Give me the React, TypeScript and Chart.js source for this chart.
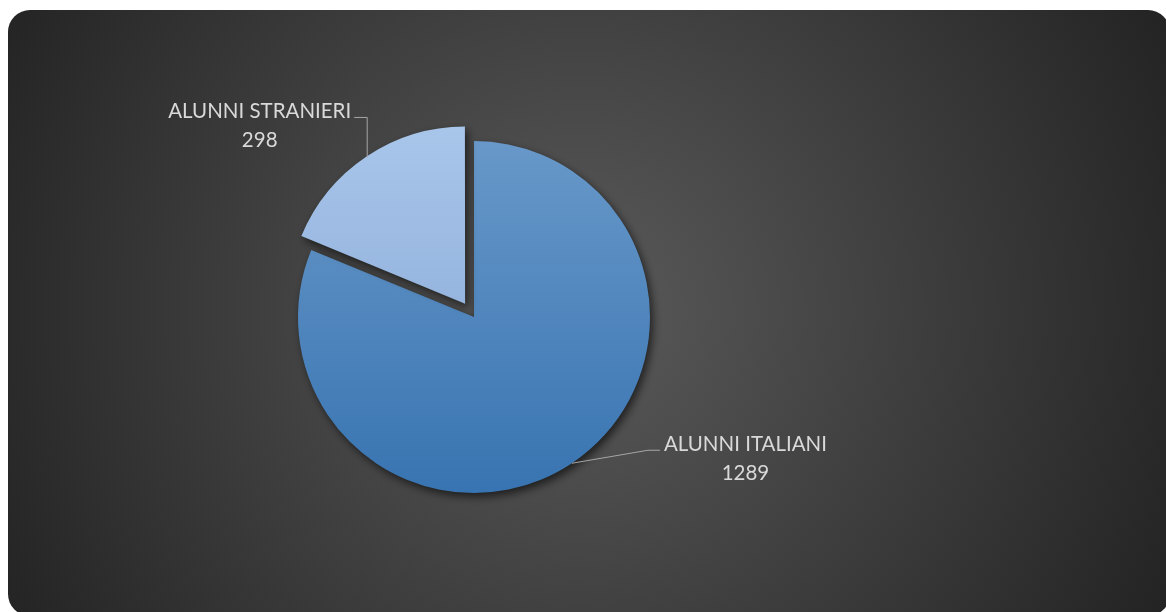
import React, { useEffect, useRef } from 'react';
import { Chart, registerables } from 'chart.js';

Chart.register(...registerables);

// ---- data ----
const categories = ['ALUNNI ITALIANI', 'ALUNNI STRANIERI'];
const values = [1289, 298];

// ---- styling ----
const topColors = ['#6898c9', '#a8c5ea'];
const bottomColors = ['#3874b1', '#84a5d3'];
const explodePx = [0, 16];
// leader layout: elbow offset from the slice edge, then horizontal tail length
const elbowDx = [76, 0];
const elbowDy = [-13, -40];
const tailDx = [12, -13];

const PIE_RADIUS = 176;
const FONT = '20.5px Lato, "Open Sans", sans-serif';

const decorPlugin = {
  id: 'decor',
  beforeDraw(chart: any) {
    const ctx = chart.ctx as CanvasRenderingContext2D;
    ctx.save();
    const g = ctx.createRadialGradient(580, 310, 0, 580, 310, 660);
    g.addColorStop(0, '#5a5a5a');
    g.addColorStop(1, '#232323');
    ctx.fillStyle = g;
    ctx.beginPath();
    (ctx as any).roundRect(8, 10, 1162, 606, 22);
    ctx.fill();
    ctx.restore();
  },
  beforeDatasetsDraw(chart: any) {
    const ctx = chart.ctx as CanvasRenderingContext2D;
    ctx.save();
    ctx.shadowColor = 'rgba(0,0,0,0.6)';
    ctx.shadowBlur = 8;
    ctx.shadowOffsetX = 3;
    ctx.shadowOffsetY = 4;
  },
  afterDatasetsDraw(chart: any) {
    const ctx = chart.ctx as CanvasRenderingContext2D;
    ctx.restore();
    const meta = chart.getDatasetMeta(0);
    ctx.save();
    ctx.font = FONT;
    ctx.fillStyle = '#d9d9d9';
    ctx.strokeStyle = '#a6a6a6';
    ctx.lineWidth = 1;
    ctx.textBaseline = 'alphabetic';
    ctx.textAlign = 'center';
    meta.data.forEach((el: any, i: number) => {
      const p = el.getProps(['x', 'y', 'startAngle', 'endAngle', 'outerRadius'], true);
      const mid = (p.startAngle + p.endAngle) / 2;
      const off = (el.options.offset || 0) / 4;
      const ex = p.x + Math.cos(mid) * (p.outerRadius + off);
      const ey = p.y + Math.sin(mid) * (p.outerRadius + off);
      const bx = ex + elbowDx[i];
      const by = ey + elbowDy[i];
      const tx = bx + tailDx[i];
      ctx.beginPath();
      ctx.moveTo(ex, ey);
      ctx.lineTo(bx, by);
      ctx.lineTo(tx, by);
      ctx.stroke();
      const lines = [categories[i], String(values[i])];
      const w = Math.max(...lines.map((l) => ctx.measureText(l).width));
      const cx = tailDx[i] > 0 ? tx + 4 + w / 2 : tx - 3 - w / 2;
      lines.forEach((l, k) => ctx.fillText(l, cx, by + 1 + k * 29));
    });
    ctx.restore();
  },
};

export default function App() {
  const ref = useRef<HTMLCanvasElement>(null);
  useEffect(() => {
    document.body.style.margin = '0';
    const canvas = ref.current!;
    const chart = new Chart(canvas, {
      type: 'pie',
      data: {
        labels: categories,
        datasets: [
          {
            data: values,
            borderWidth: 0,
            offset: explodePx.map((v) => v * 4),
            radius: PIE_RADIUS,
            backgroundColor: (c: any) => {
              const area = c.chart.chartArea;
              const i = c.dataIndex ?? 0;
              if (!area) return topColors[i];
              const cy = (area.top + area.bottom) / 2;
              const g = c.chart.ctx.createLinearGradient(0, cy - PIE_RADIUS, 0, cy + PIE_RADIUS);
              g.addColorStop(0, topColors[i]);
              g.addColorStop(1, bottomColors[i]);
              return g;
            },
          } as any,
        ],
      },
      options: {
        responsive: false,
        maintainAspectRatio: false,
        animation: false,
        layout: { padding: { left: 0, right: 218, top: 22, bottom: 0 } },
        plugins: {
          legend: { display: false },
          tooltip: { enabled: false },
        },
      },
      plugins: [decorPlugin],
    });
    return () => chart.destroy();
  }, []);
  return (
    <div style={{ width: 1166, height: 612, background: '#fff' }}>
      <canvas ref={ref} width={1166} height={612} style={{ display: 'block' }} />
    </div>
  );
}
